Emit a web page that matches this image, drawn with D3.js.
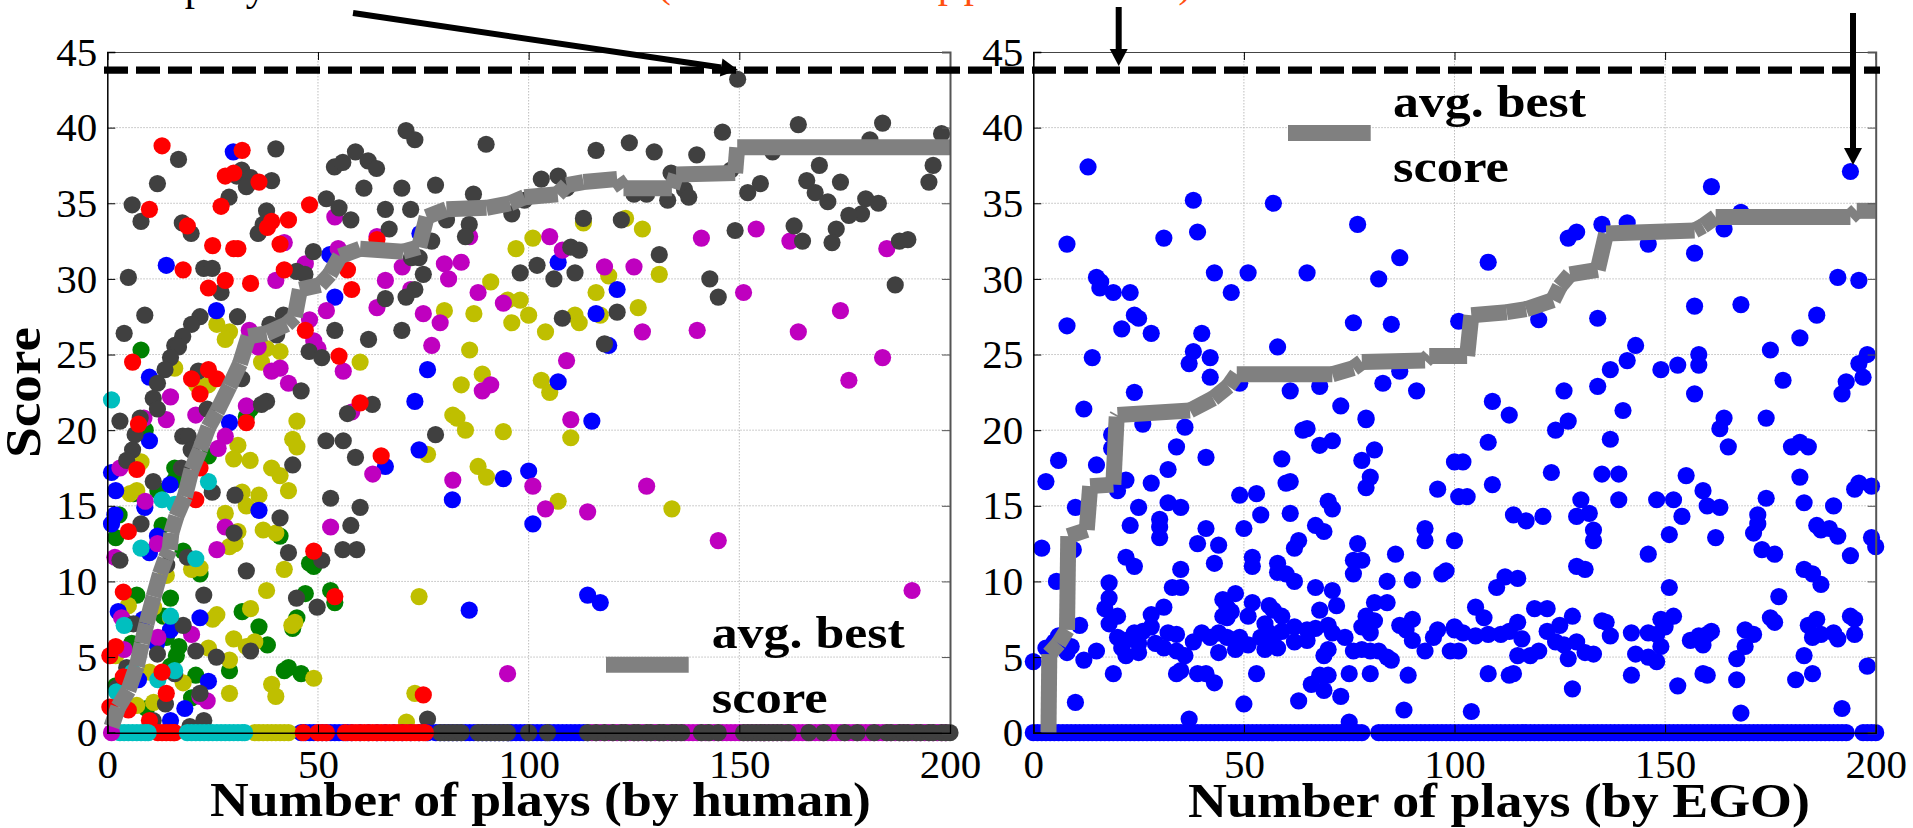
<!DOCTYPE html>
<html>
<head>
<meta charset="utf-8">
<script src="https://cdn.jsdelivr.net/npm/d3@7"></script>
<style>
  html, body { margin: 0; padding: 0; background: #fff; overflow: hidden; }
  text { font-family: "Liberation Serif", serif; fill: #000; }
  .tick-label text { font-size: 41px; }
  .bold { font-weight: bold; }
</style>
</head>
<body>
<div id="chart"></div>
<script>
// Define SVG area dimensions
let svgWidth = 1913;
let svgHeight = 828;

// Scores shown on the chart
const xTicks = [0, 50, 100, 150, 200];
const yTicks = [0, 5, 10, 15, 20, 25, 30, 35, 40, 45];
const bestScore = 43.8;
const humanLabel = "Number of plays (by human)";
const egoLabel = "Number of plays (by EGO)";

// Left panel: [play, score], one list per player colour
const humanGreen = [[8,25.3],[34,21.4],[33,20.9],[9,20],[24,18.3],[16,17.5],[16,16.7],[12,16],[6.2,15.8],[2.8,14.4],[13,13.7],[2,12.9],[18,12],[22,10.5],[7,9.1],[15,8.9],[32,8],[36,7],[38,5.8],[45,7.6],[44,6.9],[41,13],[48,11.2],[49,11],[47,9.2],[53,9.4],[54,8.6],[42,4.1],[43,4.3],[46,3.9],[29,4.1],[21,3.8],[20,2.3],[9.3,1.6],[2,3.1],[5.8,5.9],[14,6.3],[17,5.7],[16.4,5.1],[15,4.4],[13.3,7.7],[5,7.2]];
const humanOlive = [[26,27],[29,26.5],[28,26],[16,24.1],[37.8,25.4],[41,25.2],[36.6,24.5],[60,24.5],[80,27.9],[87,27.7],[91,29.8],[86,25.3],[89,23.7],[84,23],[82,21],[83,20.8],[45,20.6],[21.2,23],[24,23],[85,20],[94,19.9],[88,17.6],[90,16.9],[76,18.4],[44,19.4],[45,18.9],[31,19],[30,18.1],[33.9,18],[39,17.5],[41,17],[43,16],[32,15.9],[36,15.7],[33,15],[28,14.5],[37,13.4],[40,13.2],[31,13.3],[29,12.3],[30.3,12.5],[42,10.8],[37.8,9.4],[34,8.2],[26,7.8],[25,7.5],[44.5,7.3],[43.8,7.1],[30,6.2],[33,5.7],[35,6],[24,5.6],[29,4.8],[49,3.6],[39,3.2],[40,2.4],[29,2.6],[73,2.6],[71,0.7],[74,9],[8,17.9],[7,16],[5.4,15.8],[20,10.8],[22,10.9],[5,8.4],[15,7.6],[11,8.3],[2,5.1],[10,4],[18,3.3],[7,1.8],[11,2],[14,10.4],[101,32.7],[97,32],[113,33.7],[123,34],[127,33.3],[131,30.3],[119,30.2],[116,29.1],[95,28.6],[98,28.6],[100,27.6],[96,27.1],[111,27.6],[112,27.1],[104,26.5],[117,27.6],[126,28.1],[103,23.3],[105,22.5],[110,19.5],[107,15.3],[134,14.8]];
const humanBlue = [[29.9,38.4],[14,30.9],[25.9,27.9],[52.8,31.6],[54,28.8],[74.2,33],[10,23.5],[76,24],[73,21.9],[29,20.5],[10,19.3],[1,17.2],[2,16],[1.8,14.4],[1,13.8],[8.9,14.9],[14.9,16.4],[36,14.7],[66,17.6],[74,18.7],[81.9,15.4],[85.9,8.1],[11.9,13],[10,11.9],[2.6,8],[22,7.6],[15,6.8],[8.5,7.5],[11.7,5.9],[24,3.4],[18.4,1.6],[15,0.8],[7.4,3.5],[107,31.1],[121,29.3],[116,27.7],[119,25.6],[107,23.2],[115,20.6],[100,17.3],[94,16.8],[101,13.8],[114,9.1],[117,8.6]];
const humanMagenta = [[54,34.1],[42,32.4],[54.8,32],[64,32.8],[86,32.8],[40,29.9],[47,31],[66,29.9],[70,30.8],[80,31],[84,31.1],[81,30],[72,29.3],[88,29.1],[94,28.4],[52,27.9],[64,28.1],[75,27.7],[79,27.1],[48,27.3],[33.7,26.6],[49,25.9],[50,25.4],[77,25.6],[35.8,25.5],[41,24.1],[39,23.9],[56,23.9],[43,23.1],[91,23],[89,22.6],[15,22.2],[33,21.6],[21,21],[8.7,20.8],[14,20.7],[58,21.2],[28,19.6],[26.3,18.8],[63,17.1],[82,16.7],[3,17.5],[9,15.3],[53,13.6],[28,13.6],[26,12.1],[11.9,12.5],[1.8,11.6],[20,6.5],[12,6.3],[4,5.5],[22,2.4],[23.7,2.1],[3.4,7.6],[95,3.9],[105,32.8],[108,31.9],[141,32.7],[154,33.3],[162,32.5],[185,32],[118,30.8],[125,30.8],[151,29.1],[127,26.5],[140,26.6],[164,26.5],[174,27.9],[184,24.8],[176,23.3],[109,24.6],[110,20.7],[101,16.3],[104,14.8],[114,14.6],[128,16.3],[145,12.7],[191,9.4]];
const humanDark = [[5,30.1],[5.9,34.9],[8,33.8],[8.9,27.6],[4,26.4],[11.9,36.3],[16.9,37.9],[17.8,33.7],[19.9,33],[22.9,30.7],[24.9,30.7],[27,29.1],[28.9,35.4],[31.9,37.2],[30.7,36.8],[34,36.7],[33,36.1],[39,36.5],[40,38.6],[37.8,34.5],[37,33.6],[35.8,33],[22,27.5],[20,27],[17.9,26.2],[16,25.6],[16.9,25.5],[15,24.8],[13.7,24],[21.6,23.9],[11.9,23.1],[10.9,22.1],[11.9,21.4],[30.9,27.5],[48.9,31.8],[44.9,30.5],[46.9,30.3],[41.8,27.6],[38.6,27],[40.2,26.3],[52,35.3],[55,34.7],[57.8,33.9],[53.9,37.4],[55.9,37.7],[58.9,38.4],[61.9,37.8],[63.9,37.3],[60.9,36],[69.9,36],[77.9,36.2],[70.9,39.8],[73,39.2],[89.9,38.9],[66,34.6],[72,34.6],[66.9,33.3],[86.9,35.6],[85.9,33.6],[85,32.8],[77,32.5],[80.5,33.9],[74,31.4],[72.2,31.4],[75,30.3],[73,29.3],[70.9,28.8],[66,28.7],[54,26.6],[69.9,26.6],[62,26],[47.9,25.2],[50.9,24.8],[46,22.6],[37.8,21.9],[36.6,21.7],[31.9,23.4],[62.9,21.7],[57,21.1],[23.7,21.4],[3,20.6],[7.8,20.8],[6.6,19.7],[6,18.7],[4.6,18],[10.9,16.6],[17.9,19.6],[19.2,19.6],[19.9,18.7],[17.6,17.5],[44,17.7],[24.9,15.9],[30.3,15.7],[51.9,19.3],[56,19.3],[58.9,18.2],[77.9,19.7],[53,15.5],[60,14.9],[41,14.2],[57.8,13.7],[55.9,12.1],[59.2,12.1],[50.9,11.4],[43,11.9],[33,10.7],[30.1,13.2],[8,13.8],[3,11.4],[19,11.6],[14.1,11.1],[22.9,9.1],[44.9,8.9],[49.8,8.3],[18,7.1],[11.9,5.2],[21,5.4],[25.9,5],[34,5.4],[6.2,7.2],[4.6,4.3],[2.4,3],[16,3.9],[13.8,1.9],[22,2.6],[22.9,0.8],[10.9,0.8],[19.6,0.4],[76,0.9],[116,38.5],[123.9,39],[129.8,38.4],[139.9,38.2],[146,39.7],[149.6,43.2],[164,40.2],[184,40.3],[181,39.2],[198,39.6],[157.9,38.4],[169,37.5],[166,36.5],[174,36.4],[168,35.7],[171,35.1],[180,35.3],[183,35],[179,34.3],[176,34.2],[173,33.3],[172,32.4],[196,37.5],[195,36.4],[155,36.3],[152,35.7],[163,33.5],[165,32.5],[149,33.2],[188,32.5],[190,32.6],[187,29.6],[143,30],[145,28.8],[103,36.6],[107,36.8],[109,36],[99,35.2],[96,34.3],[133.8,37],[125,35.6],[128,35.6],[133,35.2],[137,35.9],[138,35.4],[148,37.2],[113,34],[122,33.9],[131,31.6],[110,32.1],[112,31.9],[102,30.9],[98,30.4],[106,30],[111,30.4],[108,27.4],[121,27.8],[118,25.7]];
const humanCyan = [[1,22],[24,16.6],[13,15.4],[16,15.1],[8,12.2],[21,11.5],[15,7.7],[4,7.1],[6,4],[16,4.1],[12,3.5],[2.2,2.7]];
const humanRed = [[13,38.8],[32,38.5],[28,36.8],[30,37],[36,36.4],[10,34.6],[27,34.8],[19,33.5],[43,33.9],[48,34.9],[39,33.8],[38,33.4],[41,32.3],[25,32.2],[30,32],[31,32],[64,32.6],[18,30.6],[42,30.6],[28,29.9],[34,29.7],[24,29.4],[57,30.6],[58,29.3],[47,26.6],[55,24.9],[6,24.5],[24,24],[20,23.4],[26,23.4],[22,22.4],[60,21.8],[33,20.5],[7.4,20.4],[7,17.4],[22,17.5],[21,15.4],[5,13.3],[49,12],[3.8,9.3],[54,9],[65,18.3],[2,5.7],[0.6,5.1],[3.8,3.7],[13,4],[14,2.6],[0.6,1.7],[5,1.5],[10,0.8],[75,2.5]];

// Left panel: plays that scored zero
const humanZeroBlue = [46,47,48,49,50,51,52,53,54,55,56,57,58,60,62,64,66,68,70,72,74,76,78,79,80,81,82,83,84,85,86,87,88,89,90,91,92,93,94,95,96,97,98,99,100,101,102,103,104,105,106,107,108,109,110,111,112,113,114];
const humanZeroMagenta = [115,116,117,118,119,120,121,122,123,124,125,126,127,128,129,130,131,132,133,134,135,136,137,138,139,140,141,142,143,144,145,146,147,148,149,150,151,152,153,154,155,156,157,158,159,160,161,162,163,164,165,166,167,168,169,170,171,172,173,174,175,176,177,178,179,180,181,182,183,184,185,186,187,188,189,190,191,192,193,194,195,196,197,198,199];
const humanZeroDark = [79,80,81,82,83,84,88,89,90,91,92,93,94,95,100,104.5,114,116,118,120,122,123,125,126,128,129,131,132,134,135,136.3,141,142.7,145,151,152,153,154,155,156,157,158,159,160,161.6,166.5,170,175,178,182,185,186,188,189,190,192,193,195,196,198,199,200];
const humanZeroOlive = [35,36,37,38,39,40,41,42,43];
const humanZeroCyan = [3,4,5,6,7,8,9,9.7,19,20,21,22,23,24,25,26,27,28,29,30,31,32,32.6];
const humanZeroRed = [12,13,14,15,15.7,16,46.5,50,51,52,56.5,58,59,60,61,62,63,64,65,66,67,68,69,70,71,72,73,74,75,75.5];
const humanZeroFirst = [1];

// Left panel: average best score
const humanBest = [[1,0.4],[2.6,1.7],[5,2.8],[7,4.4],[8.2,5.9],[9.3,7.2],[11,9],[12.5,10.5],[13.8,11.5],[14.8,12.1],[15.2,13.2],[16.4,14.3],[18.4,15.6],[20,17.4],[22,18.7],[24,20.2],[26,21.2],[29,22.9],[31.5,24.4],[33.5,26.2],[37.8,26.4],[42.6,27],[44.5,27.5],[45.7,29.3],[50.5,29.6],[52.8,30.3],[55.2,31.5],[60,32],[70.2,31.8],[74,32.1],[75.8,34.1],[80.5,34.6],[90,34.7],[95.6,35],[99,35.4],[106.9,35.6],[109,36.2],[113,36.4],[121,36.6],[122.5,36],[134,36],[135,36.9],[149,37],[149.5,38.7],[200,38.7]];

// Right panel: [play, score]
const egoBlue = [[13,37.4],[38,35.2],[39,33.1],[31,32.7],[8,32.3],[57,35],[77,33.6],[15,30.1],[16,29.8],[15.8,29.4],[19,29.1],[23,29.1],[43,30.4],[51,30.4],[65,30.4],[47,29.1],[87,31.4],[82,30],[8,26.9],[24,27.6],[25,27.4],[21,26.7],[28,26.4],[40,26.4],[76,27.1],[85,27],[14,24.8],[38,25.2],[37,24.4],[42,24.8],[42,23.5],[58,25.5],[24,22.5],[12,21.4],[49,23.1],[61,22.6],[68,22.9],[83,23.1],[87,23.9],[91,22.6],[73,21.6],[79,20.8],[101,27.2],[26,20.4],[36,20.2],[18.6,19.7],[18.6,18.8],[34,18.9],[41,18.2],[6,18],[15,17.7],[32,17.4],[3,16.6],[22,16.7],[28,16.5],[20,16],[10,14.9],[25,14.9],[32,15.2],[35,14.9],[30,14.1],[30,13.6],[30,12.9],[23,13.7],[41,13.5],[39,12.5],[44,12.4],[2,12.2],[9.5,12.1],[22,11.6],[24,11],[43,11.2],[35,10.8],[52,11.6],[52,11],[5.5,10],[18,9.9],[33,9.6],[35,9.6],[18,8.9],[17,8.2],[31,8.3],[48,9.2],[45,8.8],[46,8.3],[47,8],[45,7.7],[46,7.6],[52,8.6],[51,7.7],[28,7.8],[20,7.7],[18,7.2],[11,7.1],[6,6.4],[5,6],[9,5.7],[8,5.3],[3,5.6],[0,4.7],[15,5.4],[12,4.8],[19,3.9],[10,2],[20,6.3],[22,6.1],[21,5.6],[22,5.1],[24,6.6],[25,5.9],[25,5.3],[26,6.7],[28,7],[29,5.9],[31,5.6],[32,6.6],[34,6.5],[34,5.4],[36,5.1],[38,6],[40,6.6],[44,6.6],[42,6.3],[44,5.3],[46,6.3],[48,5.5],[49,6.3],[51,5.8],[54,6.3],[55,7.2],[55,5.5],[57,5.9],[58,5.6],[56,8.4],[57,8.1],[59,7.7],[56,6.6],[59,6.7],[62,6],[62,7],[65,6.8],[65,6.1],[67,6.9],[70,7.1],[68,8.1],[67,9.6],[71,9.4],[72,8.4],[71,6.6],[74,6.3],[70,5.5],[69,5.1],[76,5.4],[78,5.5],[80,5.4],[82,5.4],[84,5],[85,4.8],[78,7],[79,7.7],[81,7.4],[80,6.6],[81,8.6],[84,8.6],[84,10],[90,10.1],[86,11.8],[76,11.4],[77,12.5],[78,11.4],[76,10.5],[97,10.5],[98,10.7],[100,12.7],[93,13.5],[93,12.7],[96,16.1],[87,7.1],[90,7.5],[88.5,6.8],[90,6.1],[93,5.4],[96,6.8],[95,6.3],[100,6.8],[99,5.4],[89,3.8],[88,1.5],[75,3.9],[80,3.9],[53,3.9],[43,3.3],[41,3.9],[39,3.9],[35,4.1],[34,3.9],[50,1.9],[63,2.1],[73,2.4],[66,3.2],[68,3.8],[70,3.8],[69,2.8],[37,0.9],[75,0.7],[62,12.2],[63,12.7],[67,13.7],[69,13.3],[70,15.3],[71,14.8],[61,14.5],[54,14.4],[50,13.5],[49,15.7],[53,15.8],[58,11.2],[58,10.6],[60,10.5],[62,10],[60,16.5],[61,16.6],[59,18.1],[64,20],[65,20.1],[68,19],[71,19.3],[79,20.7],[78,18],[81,18.7],[80,16.9],[79,16.2],[100,17.9],[101,15.6],[194,37.1],[161,36.1],[168,34.4],[164,33.3],[157,31.7],[146,32.3],[141,33.7],[135,33.6],[129,33.1],[127,32.7],[108,31.1],[191,30.1],[196,29.9],[157,28.2],[168,28.3],[186,27.6],[182,26.1],[120,27.3],[134,27.4],[175,25.3],[143,25.6],[141,24.6],[137,24],[134,22.9],[149,24],[153,24.3],[158,25],[158,24.3],[157,22.4],[126,22.6],[109,21.9],[113,21],[127,20.6],[140,21.3],[164,20.8],[174,20.8],[178,23.3],[198,25],[196,24.4],[197,23.5],[193,23.2],[192,22.4],[124,20],[163,20.1],[165,18.9],[137,19.4],[108,19.2],[180,18.9],[182,19.2],[184,18.9],[182,16.9],[102,17.9],[123,17.2],[135,17.1],[139,17.1],[109,16.4],[155,17],[159,16],[160,15],[163,14.9],[154,14.3],[148,15.4],[152,15.4],[139,15.4],[130,15.4],[103,15.6],[114,14.4],[117,14],[121,14.3],[129,14.3],[132,14.5],[133,13.4],[133,12.7],[151,13.1],[162,12.9],[172,14.4],[172,13.8],[171,13.2],[174,15.5],[183,15.2],[190,15],[195,16.1],[196,16.5],[199,16.3],[186,13.7],[187,13.4],[189,13.5],[191,13],[199,12.9],[200,12.3],[194,11.7],[146,11.8],[173,12.1],[176,11.8],[129,11],[131,10.8],[110,9.6],[112,10.3],[115,10.2],[151,9.6],[183,10.8],[185,10.5],[187,9.8],[177,9],[105,8.3],[107,7.6],[119,8.2],[122,8.2],[128,7.7],[115,7.3],[125,7.1],[122,6.7],[135,7.4],[136,7.3],[137,6.4],[149,7.5],[152,7.7],[150,7],[142,6.6],[146,6.6],[148,6.5],[116,6.2],[100,7],[102,6.6],[105,6.4],[108,6.5],[111,6.5],[113,6.7],[101,5.4],[115,5.1],[118,5.1],[120,5.4],[124,6],[126,5.8],[129,6],[131,5.3],[133,5.2],[127,4.9],[143,5.2],[146,5],[148,4.7],[149,5.7],[156,6.1],[158,6.4],[160,6.5],[161,6.7],[159,5.8],[169,6.8],[171,6.5],[169,5.7],[167,4.9],[175,7.6],[176,7.3],[184,7.1],[186,7.5],[185,6.3],[187,6.5],[190,6.6],[191,6.2],[195,6.5],[194,7.7],[195,7.5],[183,5.1],[185,3.9],[181,3.5],[198,4.4],[108,3.9],[113,3.8],[114,3.9],[142,3.8],[128,2.9],[153,3.1],[159,3.9],[160,3.8],[167,3.5],[104,1.4],[168,1.3],[192,1.6]];

// Right panel: plays that scored zero
const egoZero = [0,1,2,3,4,5,6,7,8,9,10,11,12,13,14,15,16,17,18,19,20,21,22,23,24,25,26,27,28,29,30,31,32,33,34,35,36,37,38,39,40,41,42,43,44,45,46,47,48,49,50,51,52,53,54,55,56,57,58,59,60,61,62,63,64,65,66,67,68,69,70,71,72,73,74,75,76,77,78,82,83,84,85,86,87,88,89,90,91,92,93,94,95,96,97,98,99,100,101,102,103,104,105,106,107,108,109,110,111,112,113,114,115,116,117,118,119,120,121,122,123,124,125,126,127,128,129,130,131,132,133,134,135,136,137,138,139,140,141,142,143,144,145,146,147,148,149,150,151,152,153,154,155,156,157,158,159,160,161,162,163,164,165,166,167,168,169,170,171,172,173,174,175,176,177,178,179,180,181,182,183,184,185,186,187,188,189,190,191,192,193,197,198,199,200];

// Right panel: average best score
const egoBest = [[3.6,0],[3.8,5.2],[6,5.9],[8,6.8],[8.3,13],[12.7,13.4],[13.5,16.3],[19,16.4],[19.8,20.9],[20,21],[37.2,21.3],[42.7,22.1],[46.3,22.9],[48.3,23.7],[71,23.7],[76,24.1],[78,24.5],[93,24.6],[94,24.9],[103,24.9],[104,27.6],[112.4,27.8],[117,28],[123.4,28.6],[125,29.5],[127.4,30.3],[134,30.6],[136,33],[157,33.2],[159,33.5],[162,34.1],[194,34.1],[195.5,34.5],[200,34.5]];

// Colours and dot size
const green = "#008000", olive = "#bfbf00", blue = "#0000ff", magenta = "#bf00bf",
  dark = "#404040", cyan = "#00bfbf", red = "#ff0000", best = "#808080";
const orange = "#ff5010";
const dotRadius = 8.6;

var svg = d3
  .select("#chart")
  .append("svg")
  .attr("width", svgWidth)
  .attr("height", svgHeight);

// Score scale is shared by both panels
let yScale = d3.scaleLinear().domain([0, 45]).range([732.7, 52]);

function dots(group, xScale, points, colour) {
  group.append("g")
    .selectAll("circle")
    .data(points)
    .enter()
    .append("circle")
    .attr("cx", (d) => xScale(d[0]))
    .attr("cy", (d) => yScale(d[1]))
    .attr("r", dotRadius)
    .attr("fill", colour);
}

function zeros(list) {
  return list.map((d) => [d, 0]);
}

// Builds the grid and frame of one panel, returns its x scale and a layer for dots
function panel(left, right, bestLine) {
  let xScale = d3.scaleLinear().domain([0, 200]).range([left, right]);
  let top = yScale(45), bottom = yScale(0);
  let g = svg.append("g");

  // grid
  let grid = g.append("g").attr("stroke", "#bdbdbd").attr("stroke-dasharray", "1.5 1.5");
  grid.selectAll(".gx").data(xTicks.slice(1, -1)).enter().append("line")
    .attr("x1", (d) => xScale(d)).attr("x2", (d) => xScale(d))
    .attr("y1", top).attr("y2", bottom);
  grid.selectAll(".gy").data(yTicks.slice(1, -1)).enter().append("line")
    .attr("x1", left).attr("x2", right)
    .attr("y1", (d) => yScale(d)).attr("y2", (d) => yScale(d));

  let layer = g.append("g");

  // avg. best score, one short piece per step like the original plot
  svg.append("g").selectAll("line")
    .data(d3.pairs(bestLine))
    .enter()
    .append("line")
    .attr("x1", (d) => xScale(d[0][0]))
    .attr("y1", (d) => yScale(d[0][1]))
    .attr("x2", (d) => xScale(d[1][0]))
    .attr("y2", (d) => yScale(d[1][1]))
    .attr("stroke", best)
    .attr("stroke-width", 16);

  // axes on top of the dots
  let over = svg.append("g");
  let bottomAxis = d3.axisBottom(xScale).tickValues(xTicks).tickSize(-8).tickPadding(16);
  let leftAxis = d3.axisLeft(yScale).tickValues(yTicks).tickSize(-8).tickPadding(10);
  let topAxis = d3.axisTop(xScale).tickValues(xTicks).tickSize(-8).tickFormat("");
  let rightAxis = d3.axisRight(yScale).tickValues(yTicks).tickSize(-8).tickFormat("");
  over.append("g").attr("transform", `translate(0, ${top})`).attr("class", "frame-top").call(topAxis);
  over.append("g").attr("transform", `translate(${right}, 0)`).attr("class", "frame-right").call(rightAxis);
  over.append("g").attr("class", "tick-label").attr("transform", `translate(0, ${bottom})`).call(bottomAxis);
  over.append("g").attr("class", "tick-label").attr("transform", `translate(${left}, 0)`).call(leftAxis);
  over.selectAll(".frame-right path").attr("stroke", "#555").attr("stroke-width", 2);
  over.selectAll(".frame-right line").attr("stroke", "#555");
  over.selectAll(".frame-top path").attr("stroke", "#444");
  over.selectAll(".tick-label text").attr("fill", "#000");
  over.selectAll(".tick-label path").attr("stroke-width", 1.5);

  return { xScale, layer };
}

// Left panel
let human = panel(107.3, 950, humanBest);
[[humanGreen, green], [humanOlive, olive], [humanBlue, blue], [humanMagenta, magenta],
 [humanDark, dark], [humanCyan, cyan], [humanRed, red],
 [zeros(humanZeroBlue), blue], [zeros(humanZeroMagenta), magenta], [zeros(humanZeroDark), dark],
 [zeros(humanZeroOlive), olive], [zeros(humanZeroRed), red], [zeros(humanZeroCyan), cyan],
 [zeros(humanZeroFirst), magenta]]
  .forEach((s) => dots(human.layer, human.xScale, s[0], s[1]));

// Right panel
let ego = panel(1033.3, 1875.7, egoBest);
dots(ego.layer, ego.xScale, egoBlue, blue);
dots(ego.layer, ego.xScale, zeros(egoZero), blue);

// Bold serif text stretched to the width it has in the reference
function boldText(x, y, size, width, label) {
  return svg.append("text").attr("class", "bold").attr("x", x).attr("y", y)
    .attr("font-size", size)
    .attr("textLength", width)
    .attr("lengthAdjust", "spacingAndGlyphs")
    .text(label);
}

// Legends
function legend(x1, x2, y, textX, y1, y2) {
  svg.append("line").attr("x1", x1).attr("x2", x2).attr("y1", y).attr("y2", y)
    .attr("stroke", best).attr("stroke-width", 16);
  boldText(textX, y1, 47, 193, "avg. best");
  boldText(textX, y2, 47, 116, "score");
}
legend(606, 688.7, 664.7, 711.7, 648, 712.7);
legend(1288, 1370.7, 133, 1393, 117, 181.7);

// Axis titles
boldText(210, 816, 48, 661, humanLabel);
boldText(1188, 817, 48, 622, egoLabel);
svg.append("text").attr("class", "bold").attr("font-size", 50)
  .attr("transform", "translate(40, 458) rotate(-90)")
  .attr("textLength", 131).attr("lengthAdjust", "spacingAndGlyphs").text("Score");

// Best score dashed line across both panels
svg.append("line")
  .attr("x1", 104).attr("x2", 1880)
  .attr("y1", yScale(bestScore)).attr("y2", yScale(bestScore))
  .attr("stroke", "#000").attr("stroke-width", 7.4).attr("stroke-dasharray", "24 8");

// Arrows
function arrow(x1, y1, x2, y2, w) {
  let a = Math.atan2(y2 - y1, x2 - x1);
  let headLength = 17, headWidth = 9;
  let bx = x2 - headLength * Math.cos(a), by = y2 - headLength * Math.sin(a);
  svg.append("line").attr("x1", x1).attr("y1", y1).attr("x2", bx).attr("y2", by)
    .attr("stroke", "#000").attr("stroke-width", w);
  let pts = [[x2, y2],
    [bx - headWidth * Math.sin(a), by + headWidth * Math.cos(a)],
    [bx + headWidth * Math.sin(a), by - headWidth * Math.cos(a)]];
  svg.append("polygon").attr("points", pts.join(" ")).attr("fill", "#000");
}
arrow(353, 13, 738, 70, 6);
arrow(1118.7, 7, 1118.7, 66, 6);
arrow(1853, 13, 1853, 165, 6);

// Caption cut off by the top edge: only the tails of these letters are in the picture
const captionLetters = [["p", 195, 0, "#000"], ["y", 256, 0, "#000"], ["(", 664, -3, orange],
  ["p", 948, -3, orange], ["p", 974, -3, orange], [")", 1185, -3, orange]];
svg.selectAll(".caption").data(captionLetters).enter().append("text")
  .attr("class", "caption")
  .attr("x", (d) => d[1]).attr("y", (d) => d[2])
  .attr("text-anchor", "middle")
  .attr("font-size", 41)
  .style("fill", (d) => d[3])
  .text((d) => d[0]);
</script>
</body>
</html>
